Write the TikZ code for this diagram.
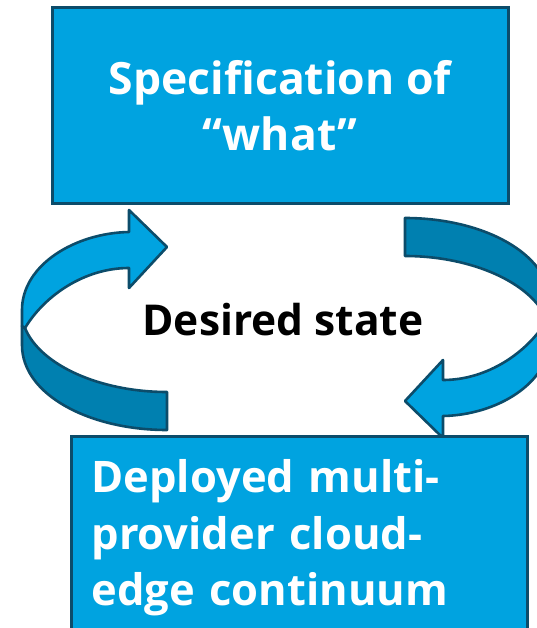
\documentclass[tikz,border=0pt]{standalone}
\usepackage{fontspec}
\setmainfont{Open Sans}
\definecolor{lightblue}{RGB}{0,163,224}
\definecolor{darkblue}{RGB}{0,128,176}
\definecolor{edgeblue}{RGB}{12,76,106}
\tikzset{
  box/.style={draw=edgeblue, fill=lightblue, line width=3pt, text=white, font=\bfseries\fontsize{44.5}{56}\selectfont},
  frontband/.style={draw=edgeblue, fill=lightblue, line width=2.6pt, line join=round},
  backband/.style={draw=edgeblue, fill=darkblue, line width=2.6pt, line join=round},
}
\begin{document}
\begin{tikzpicture}[x=1pt,y=-1pt]
\useasboundingbox (0,0) rectangle (537,628);
\clip (0,0) rectangle (537,628);
% left curved arrow
\begin{scope}
\path[backband] (22,326) -- (22,345) .. controls (22,395) and (90,430) .. (167,430) -- (167,392) .. controls (100,392) and (40,365) .. (25,328) -- cycle;
\path[frontband] (22,310) .. controls (22,265) and (75,233) .. (129,232) -- (129,210) -- (167,247) -- (129,288) -- (129,268) .. controls (85,268) and (45,295) .. (25,328) -- (22,326) -- cycle;
\end{scope}
% right curved arrow (point reflection of the left one)
\begin{scope}[rotate around={180:(286,324)}]
\path[backband] (22,326) -- (22,345) .. controls (22,395) and (90,430) .. (167,430) -- (167,392) .. controls (100,392) and (40,365) .. (25,328) -- cycle;
\path[frontband] (22,310) .. controls (22,265) and (75,233) .. (129,232) -- (129,210) -- (167,247) -- (129,288) -- (129,268) .. controls (85,268) and (45,295) .. (25,328) -- (22,326) -- cycle;
\end{scope}
% boxes
\node[box, minimum width=456pt, minimum height=196pt, align=center] (spec) at (280,105.5) {Specification of\\“what”};
\node[box, anchor=north west, text width=416pt, inner xsep=20pt, inner ysep=23pt, align=left,
      font=\bfseries\fontsize{43.5}{56.5}\selectfont] (deploy) at (70,435) {Deployed multi-\\provider cloud-\\edge continuum};
\node[font=\bfseries\fontsize{42.5}{52}\selectfont, text=black] (state) at (283,320) {Desired state};
\end{tikzpicture}
\end{document}
